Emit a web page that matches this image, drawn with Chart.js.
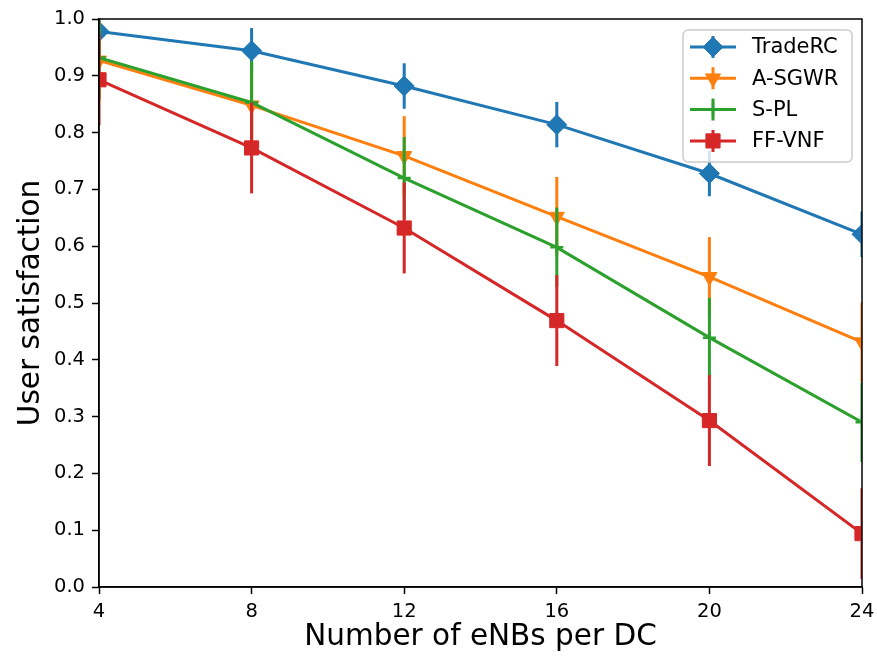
<!DOCTYPE html>
<html>
<head>
<meta charset="utf-8">
<script src="https://cdn.jsdelivr.net/npm/chart.js@4.4.1/dist/chart.umd.min.js"></script>
<style>
  html, body { margin: 0; padding: 0; background: #fff; }
  #wrap { width: 877px; height: 660px; }
</style>
</head>
<body>
<div id="wrap"><canvas id="chart" width="877" height="660"></canvas></div>
<script>
// data
const eNBs = [4, 8, 12, 16, 20, 24];
const yTicks = [0, 0.1, 0.2, 0.3, 0.4, 0.5, 0.6, 0.7, 0.8, 0.9, 1.0];

const tradeRC    = [0.978, 0.944, 0.882, 0.814, 0.728, 0.621];
const tradeRCErr = [0.04, 0.04, 0.04, 0.04, 0.04, 0.04];
const aSgwr      = [0.927, 0.848, 0.759, 0.652, 0.546, 0.431];
const aSgwrErr   = [0.07, 0.07, 0.07, 0.07, 0.07, 0.07];
const sPl        = [0.932, 0.853, 0.720, 0.598, 0.439, 0.290];
const sPlErr     = [0.073, 0.073, 0.072, 0.07, 0.07, 0.07];
const ffVnf      = [0.893, 0.773, 0.632, 0.469, 0.293, 0.094];
const ffVnfErr   = [0.08, 0.08, 0.08, 0.08, 0.08, 0.08];

const FONT = "'DejaVu Sans', sans-serif";

const toPoints = (vals) => vals.map((v, i) => ({ x: eNBs[i], y: v }));

// one entry per series: label, values, errors, colour, marker
const series = [
  { label: 'TradeRC', data: tradeRC, err: tradeRCErr, color: '#1f77b4', style: 'rectRot', radius: 10, rotation: 0, bw: 1 },
  { label: 'A-SGWR', data: aSgwr, err: aSgwrErr, color: '#ff7f0e', style: 'triangle', radius: 8.7, rotation: 180, bw: 1 },
  { label: 'S-PL', data: sPl, err: sPlErr, color: '#2ca02c', style: 'cross', radius: 6.5, rotation: 0, bw: 2.5 },
  { label: 'FF-VNF', data: ffVnf, err: ffVnfErr, color: '#d62728', style: 'rect', radius: 10, rotation: 0, bw: 1 }
];

// vertical error bars, drawn through the scales right before each series
const errorBars = {
  id: 'errorBars',
  beforeDatasetDraw(chart, args) {
    const s = series[args.index];
    const { ctx, chartArea: a, scales } = chart;
    ctx.save();
    ctx.beginPath();
    ctx.rect(a.left, a.top, a.right - a.left, a.bottom - a.top);
    ctx.clip();
    ctx.strokeStyle = s.color;
    ctx.lineWidth = 3;
    s.data.forEach((v, i) => {
      const px = scales.x.getPixelForValue(eNBs[i]);
      ctx.beginPath();
      ctx.moveTo(px, scales.y.getPixelForValue(v - s.err[i]));
      ctx.lineTo(px, scales.y.getPixelForValue(v + s.err[i]));
      ctx.stroke();
    });
    ctx.restore();
  }
};

// full box around the axes, like matplotlib spines
const frame = {
  id: 'frame',
  afterDatasetsDraw(chart) {
    const { ctx, chartArea: a } = chart;
    ctx.save();
    ctx.strokeStyle = '#000';
    ctx.lineWidth = 1.5;
    ctx.strokeRect(a.left, a.top, a.right - a.left, a.bottom - a.top);
    ctx.restore();
  }
};

// legend box with line + marker + bar
const legendBox = {
  id: 'legendBox',
  afterDraw(chart) {
    const ctx = chart.ctx;
    const x0 = 683, y0 = 30, w = 169, h = 132, r = 5;
    ctx.save();
    ctx.fillStyle = 'rgba(255,255,255,0.8)';
    ctx.strokeStyle = '#cccccc';
    ctx.lineWidth = 1.5;
    ctx.beginPath();
    ctx.roundRect(x0, y0, w, h, r);
    ctx.fill();
    ctx.stroke();
    ctx.font = '21px ' + FONT;
    ctx.textBaseline = 'middle';
    ctx.textAlign = 'left';
    series.forEach((s, i) => {
      const y = 47 + i * 31.3;
      ctx.strokeStyle = s.color;
      ctx.fillStyle = s.color;
      ctx.lineWidth = 3;
      ctx.beginPath();
      ctx.moveTo(690, y); ctx.lineTo(736, y);
      ctx.moveTo(713, y - 11); ctx.lineTo(713, y + 11);
      ctx.stroke();
      ctx.lineWidth = s.bw;
      Chart.helpers.drawPoint(ctx, { pointStyle: s.style, radius: s.radius, rotation: s.rotation, borderWidth: s.bw }, 713, y);
      ctx.fillStyle = '#000';
      ctx.fillText(s.label, 752, y + 1);
    });
    ctx.restore();
  }
};

new Chart(document.getElementById('chart'), {
  type: 'line',
  data: {
    datasets: series.map((s, i) => ({
      label: s.label,
      data: toPoints(s.data),
      borderColor: s.color,
      backgroundColor: s.color,
      borderWidth: 3,
      pointStyle: s.style,
      pointRadius: s.radius,
      pointHoverRadius: s.radius,
      pointRotation: s.rotation,
      pointBorderWidth: s.bw,
      pointBackgroundColor: s.color,
      pointBorderColor: s.color,
      tension: 0,
      clip: 0,
      order: series.length - 1 - i
    }))
  },
  options: {
    responsive: false,
    animation: false,
    layout: { padding: { top: 19, right: 15, left: 0, bottom: 0 } },
    plugins: { legend: { display: false }, tooltip: { enabled: false } },
    scales: {
      x: {
        type: 'linear',
        min: 4, max: 24,
        afterFit: (sc) => { sc.height = 73; sc.paddingLeft = 0; sc.paddingRight = 0; },
        afterBuildTicks: (sc) => { sc.ticks = eNBs.map(v => ({ value: v })); },
        ticks: { color: '#000', font: { family: FONT, size: 19.5 }, padding: 6, maxRotation: 0 },
        grid: { display: true, drawOnChartArea: false, drawTicks: true, tickLength: 7, tickColor: '#000', tickWidth: 1.5 },
        border: { display: true, color: '#000', width: 1.5 },
        title: { display: true, text: 'Number of eNBs per DC', color: '#000', font: { family: FONT, size: 29.5 }, padding: { top: 0, bottom: 4.5 } }
      },
      y: {
        min: 0, max: 1,
        afterFit: (sc) => { sc.width = 99; sc.paddingTop = 0; sc.paddingBottom = 0; },
        afterBuildTicks: (sc) => { sc.ticks = yTicks.map(v => ({ value: v })); },
        ticks: { color: '#000', font: { family: FONT, size: 19.5 }, padding: 7, callback: (v) => v.toFixed(1) },
        grid: { display: true, drawOnChartArea: false, drawTicks: true, tickLength: 7, tickColor: '#000', tickWidth: 1.5 },
        border: { display: true, color: '#000', width: 1.5 },
        title: { display: true, text: 'User satisfaction', color: '#000', font: { family: FONT, size: 29.5 }, padding: { top: 14, bottom: 0 } }
      }
    }
  },
  plugins: [errorBars, frame, legendBox]
});
</script>
</body>
</html>
